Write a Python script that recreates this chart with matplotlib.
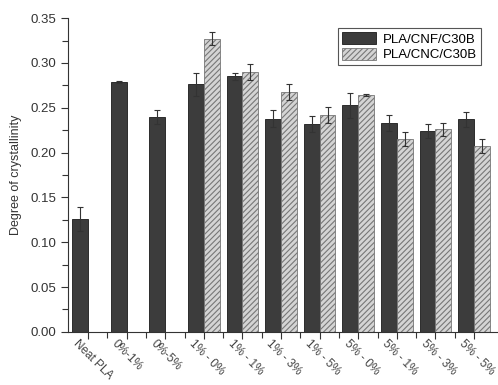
import matplotlib
matplotlib.use("Agg")
import matplotlib.pyplot as plt
import matplotlib.transforms as mtransforms
import numpy as np

plt.rcParams['font.family'] = ['Liberation Sans', 'DejaVu Sans']
plt.rcParams['hatch.color'] = '#777777'
plt.rcParams['hatch.linewidth'] = 0.8

categories = ["Neat PLA", "0%-1%", "0%-5%", "1% - 0%", "1% - 1%", "1% - 3%",
              "1% - 5%", "5% - 0%", "5% - 1%", "5% - 3%", "5% - 5%"]
cnf = [0.126, 0.279, 0.240, 0.276, 0.285, 0.238, 0.232, 0.253, 0.233, 0.224, 0.237]
cnf_err = [0.013, 0.001, 0.008, 0.013, 0.004, 0.009, 0.009, 0.014, 0.009, 0.008, 0.008]
cnc = [np.nan, np.nan, np.nan, 0.327, 0.290, 0.268, 0.242, 0.264, 0.215, 0.226, 0.207]
cnc_err = [np.nan, np.nan, np.nan, 0.007, 0.009, 0.009, 0.009, 0.001, 0.008, 0.007, 0.008]

x = np.arange(len(categories))
w = 0.41

fig = plt.figure(figsize=(4.98, 3.85), dpi=100)
ax = fig.add_axes([0.1365, 0.138, 0.8635, 0.815])

ek = dict(ecolor='#333333', elinewidth=0.8, capsize=2, capthick=0.8)
ax.bar(x - w / 2, cnf, w, yerr=cnf_err, color='#3c3c3c', edgecolor='#1a1a1a',
       linewidth=0.6, label='PLA/CNF/C30B', error_kw=ek)
ax.bar(x + w / 2, cnc, w, yerr=cnc_err, color='#d4d4d4', edgecolor='#777777',
       linewidth=0.6, hatch='//////', label='PLA/CNC/C30B', error_kw=ek)

ax.set_xlim(-0.52, 10.62)
ax.set_ylim(0, 0.35)
ax.set_yticks(np.arange(0, 0.351, 0.05))
ax.set_yticks(np.arange(0.025, 0.35, 0.05), minor=True)
ax.set_xticks(x)
ax.set_xticks(x[:-1] + 0.5, minor=True)
ax.set_xticklabels([])

# rotated category labels, placed just under each tick
shift = mtransforms.ScaledTranslation(-6 / 72, -4 / 72, fig.dpi_scale_trans)
for xi, name in zip(x, categories):
    ax.text(xi, 0, name, transform=ax.get_xaxis_transform() + shift,
            rotation=-45, ha='left', va='top', rotation_mode='anchor',
            fontsize=8.5, color='#444444', clip_on=False)

for lbl in ax.get_yticklabels():
    lbl.set_fontsize(9.5)
    lbl.set_color('#444444')
ax.tick_params(direction='out', length=5, width=0.8, colors='#333333')
ax.tick_params(which='minor', direction='out', length=4, width=0.8, colors='#333333')
ax.set_ylabel("Degree of crystallinity", fontsize=9, color='#333333', labelpad=6)

for s in ['top', 'right']:
    ax.spines[s].set_visible(False)
for s in ['left', 'bottom']:
    ax.spines[s].set_color('#333333')
    ax.spines[s].set_linewidth(0.8)

leg = ax.legend(loc='upper right', bbox_to_anchor=(0.975, 0.99), fontsize=9.5,
                fancybox=False, framealpha=1, edgecolor='#555555',
                handlelength=2.6, handleheight=1.1, borderpad=0.3,
                labelspacing=0.15, handletextpad=0.5)
leg.get_frame().set_linewidth(0.8)

fig.savefig("out.png", dpi=100)
